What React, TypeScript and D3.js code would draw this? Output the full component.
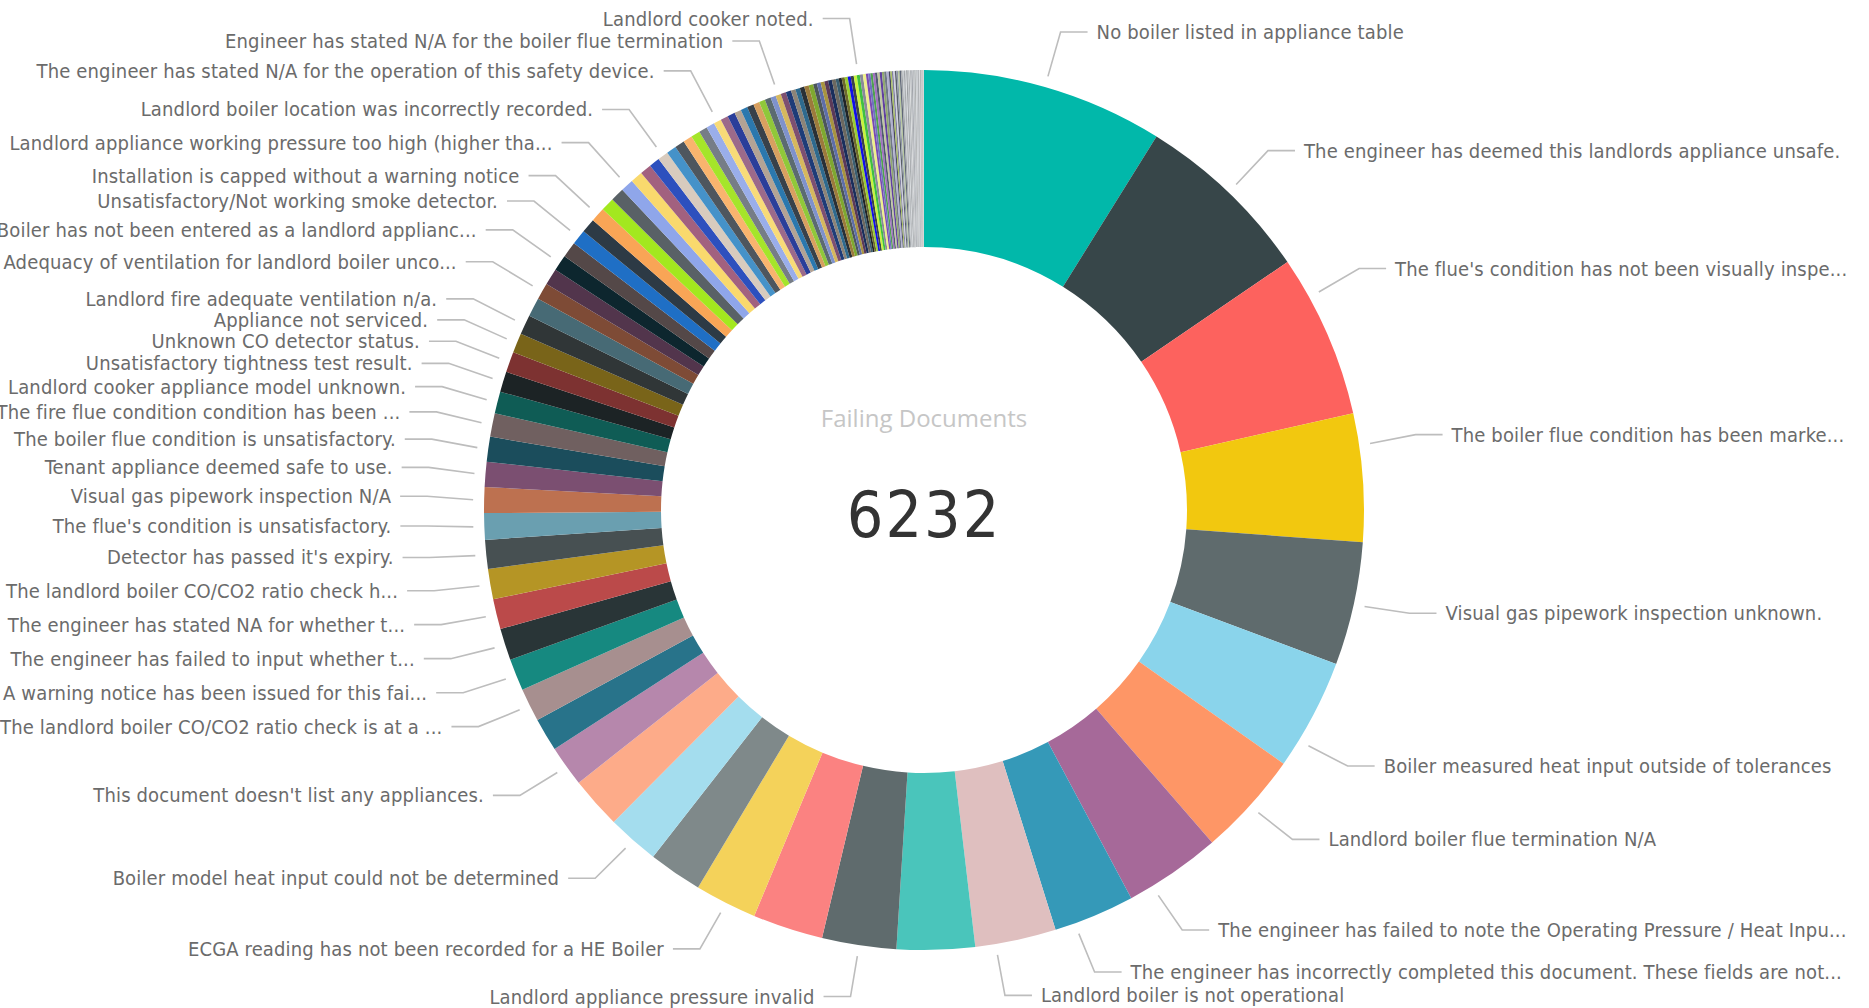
import React, { useEffect, useRef } from 'react'
import * as d3 from 'd3'

const WIDTH = 1869
const HEIGHT = 1008

// failure reason counts, in the order Power BI drew them (clockwise from 12 o'clock)
const reasonCounts = [
    1276, 952, 864, 676, 652, 588, 556, 512, 428, 428,
    412, 392, 372, 328, 284, 274, 274, 216, 176, 176,
    168, 168, 160, 160, 152, 140, 136, 132, 132, 124,
    116, 108, 108, 104, 104, 100, 88, 88, 84, 84,
    80, 76, 76, 72, 72, 68, 64, 60, 56, 56,
    52, 52, 48, 48, 44, 44, 40, 40, 40, 36,
    36, 36, 32, 32, 32, 28, 28, 28, 28, 24,
    24, 24, 24, 24, 20, 20, 20, 20, 20, 20,
    16, 16, 16, 16, 16, 16, 16, 16, 16, 16,
    12, 12, 12, 12, 12, 12, 12, 12, 12, 12,
    8, 8, 8, 8, 8, 8, 8, 8, 8, 8,
    4, 4, 4, 4, 4, 4, 4, 4, 4, 4,
    4, 4, 4, 4, 4, 4, 4, 4, 4, 4,
    4, 4, 4, 4, 4, 4,
]

const reasonColors = [
    // power bi theme + its shades
    '#01B8AA', '#374649', '#FD625E', '#F2C80F', '#5F6B6D', '#8AD4EB', '#FE9666', '#A66999', '#3599B8', '#DFBFBF',
    '#4AC5BB', '#5F6B6D', '#FB8281', '#F4D25A', '#7F898A', '#A4DDEE', '#FDAB89', '#B687AC', '#28738A', '#A78F8F',
    '#168980', '#293537', '#BB4A4A', '#B59525', '#475052', '#6A9FB0', '#BD7150', '#7B4F71', '#1B4D5C', '#706060',
    '#0F5C55', '#1C2325', '#7D3231', '#796419', '#303637', '#476A75', '#7E4B36', '#52354C', '#0D262E', '#544848',
    // generated colours after the theme runs out
    '#1F6FC5', '#2D3A45', '#F9A556', '#A3E81F', '#596166', '#8FA6EA', '#F9D96D', '#A2617F', '#2D50BE', '#D8CBBE',
    '#4592C9', '#4E565E', '#F9B46E', '#A5E52A', '#767D86', '#9AAEEA', '#F8DB78', '#9C6A8A', '#2A3E9A', '#B3A395',
    '#2B78AE', '#38414A', '#D8A060', '#90C83A', '#5B6B70', '#7F92CC', '#D6B85E', '#7E5070', '#1E3C78', '#8C8478',
    '#2E6A8E', '#2A3036', '#9C7A3C', '#7FA830', '#4C565A', '#5E6EA8', '#A89440', '#5C3A58', '#1A2E5C', '#6C6860',
    '#3A5E70', '#202428', '#6E6A2C', '#9ACD32', '#1010E8', '#3C4448', '#C8F43C', '#40C040', '#8A8A9A', '#EEF08A',
    '#7A4AB0', '#7070C0', '#50A050', '#A070C0', '#505A70', '#C0C8A0', '#6040A0', '#90A870', '#707888', '#B0B0D0',
    '#484860', '#A8C060', '#8080A0', '#D0D0E0', '#586068', '#9098A8', '#B8C8A0', '#606878', '#A0A4A8', '#C8CCD0',
    '#8C9094', '#B4B8BC', '#D8DCE0', '#7C8084', '#A8ACB0', '#C0C4C8', '#909498', '#E0E2E4', '#9CA0A4', '#B8BCC0',
    '#848890', '#CCD0D4', '#A4A8AC', '#BCC0C4', '#949898', '#D4D8DC', '#ACB0B4', '#C4C8CC', '#989CA0', '#B0B4B8',
    '#DCDEE0', '#A0A0A0', '#C8C8C8', '#B0B0B0', '#BCBCBC', '#D0D0D0',
]

// only the labels that made it onto the chart (slice index -> text as shown)
const reasonLabels: Record<number, string> = {
    0: 'No boiler listed in appliance table',
    1: 'The engineer has deemed this landlords appliance unsafe.',
    2: "The flue's condition has not been visually inspe...",
    3: 'The boiler flue condition has been marke...',
    4: 'Visual gas pipework inspection unknown.',
    5: 'Boiler measured heat input outside of tolerances',
    6: 'Landlord boiler flue termination N/A',
    7: 'The engineer has failed to note the Operating Pressure / Heat Inpu...',
    8: 'The engineer has incorrectly completed this document. These fields are not...',
    9: 'Landlord boiler is not operational',
    11: 'Landlord appliance pressure invalid',
    13: 'ECGA reading has not been recorded for a HE Boiler',
    15: 'Boiler model heat input could not be determined',
    17: "This document doesn't list any appliances.",
    19: 'The landlord boiler CO/CO2 ratio check is at a ...',
    20: 'A warning notice has been issued for this fai...',
    21: 'The engineer has failed to input whether t...',
    22: 'The engineer has stated NA for whether t...',
    23: 'The landlord boiler CO/CO2 ratio check h...',
    24: "Detector has passed it's expiry.",
    25: "The flue's condition is unsatisfactory.",
    26: 'Visual gas pipework inspection N/A',
    27: 'Tenant appliance deemed safe to use.',
    28: 'The boiler flue condition is unsatisfactory.',
    29: 'The fire flue condition condition has been ...',
    30: 'Landlord cooker appliance model unknown.',
    31: 'Unsatisfactory tightness test result.',
    32: 'Unknown CO detector status.',
    33: 'Appliance not serviced.',
    34: 'Landlord fire adequate ventilation n/a.',
    36: 'Adequacy of ventilation for landlord boiler unco...',
    38: 'Boiler has not been entered as a landlord applianc...',
    40: 'Unsatisfactory/Not working smoke detector.',
    42: 'Installation is capped without a warning notice',
    45: 'Landlord appliance working pressure too high (higher tha...',
    49: 'Landlord boiler location was incorrectly recorded.',
    56: 'The engineer has stated N/A for the operation of this safety device.',
    66: 'Engineer has stated N/A for the boiler flue termination',
    87: 'Landlord cooker noted.',
}

const centerTitle = 'Failing Documents'
const centerValue = '6232'

// where along the slice PBI hooked the leader (default is the middle)
const leaderAnchor: Record<number, number> = { 2: 0.25, 3: 0.25, 5: 0.75, 7: 0.75, 8: 0.75, 9: 0.75 }

const LABEL_FONT = "'DejaVu Sans Condensed', 'DejaVu Sans', sans-serif"

const App = () => {
    const svgRef = useRef<SVGSVGElement>(null)

    useEffect(() => {
        const svg: any = d3.select(svgRef.current)
        svg.selectAll('*').remove()

        const cx = 924
        const cy = 510
        const outerR = 440
        const innerR = 263
        const r1 = 451     // leader start
        const r2 = 497     // leader elbow (x)
        const r2y = 494.5  // labels sit a touch higher towards the bottom
        const gap = 21

        const pie = d3.pie<number>().sort(null).value(d => d)
        const arcs = pie(reasonCounts)
        const arc = d3.arc<d3.PieArcDatum<number>>().innerRadius(innerR).outerRadius(outerR)

        const g = svg.append('g').attr('transform', `translate(${cx},${cy})`)

        g.selectAll('path.slice')
            .data(arcs)
            .join('path')
            .attr('class', 'slice')
            .attr('d', arc)
            .attr('fill', (_: any, i: number) => reasonColors[i % reasonColors.length])

        // labels
        type Lab = { a: number; side: number; xe: number; y: number; text: string }
        const labs: Lab[] = []
        arcs.forEach((d, i) => {
            const text = reasonLabels[i]
            if (!text) return
            const f = leaderAnchor[i] ?? 0.5
            const a = d.startAngle + (d.endAngle - d.startAngle) * f
            labs.push({
                a,
                side: Math.sin(a) >= 0 ? 1 : -1,
                xe: r2 * Math.sin(a),
                y: -2.5 - r2y * Math.cos(a),
                text,
            })
        })

        const top = -cy + 14
        const bottom = HEIGHT - cy - 10
        ;[1, -1].forEach(side => {
            const list = labs.filter(l => l.side === side).sort((p, q) => p.y - q.y)
            for (let k = list.length - 2; k >= 0; k--) {
                list[k].y = Math.min(list[k].y, list[k + 1].y - gap)
            }
            if (list.length) list[0].y = Math.max(list[0].y, top)
            for (let k = 1; k < list.length; k++) {
                list[k].y = Math.max(list[k].y, list[k - 1].y + gap)
            }
            if (list.length && list[list.length - 1].y > bottom) list[list.length - 1].y = bottom
        })

        const lg = g.append('g')
        labs.forEach(l => {
            const x0 = r1 * Math.sin(l.a)
            const y0 = -r1 * Math.cos(l.a)
            const xh = l.xe + l.side * 27
            lg.append('polyline')
                .attr('points', [[x0, y0], [l.xe, l.y], [xh, l.y]].map(p => p.join(',')).join(' '))
                .attr('fill', 'none')
                .attr('stroke', '#bdbdbd')
                .attr('stroke-width', 1.6)
            lg.append('text')
                .attr('x', xh + l.side * 9)
                .attr('y', l.y)
                .attr('dy', '0.35em')
                .attr('text-anchor', l.side > 0 ? 'start' : 'end')
                .style('font-family', LABEL_FONT)
                .style('font-stretch', 'condensed')
                .style('font-size', '20px')
                .style('letter-spacing', '0.15px')
                .attr('fill', '#6b6b6b')
                .text(l.text)
        })

        // center card
        g.append('text')
            .attr('x', 0)
            .attr('y', -83)
            .attr('text-anchor', 'middle')
            .style('font-family', "'Open Sans', 'Noto Sans', sans-serif")
            .style('font-size', '24px')
            .attr('fill', '#c6c6c6')
            .text(centerTitle)

        g.append('text')
            .attr('x', 0)
            .attr('y', 27)
            .attr('text-anchor', 'middle')
            .style('font-family', LABEL_FONT)
            .style('font-stretch', 'condensed')
            .style('font-size', '64px')
            .style('letter-spacing', '2px')
            .attr('fill', '#333333')
            .text(centerValue)
    }, [])

    return (
        <svg
            ref={svgRef}
            width={WIDTH}
            height={HEIGHT}
            style={{ position: 'absolute', left: 0, top: 0, background: '#ffffff', display: 'block' }}
        />
    )
}

export default App
